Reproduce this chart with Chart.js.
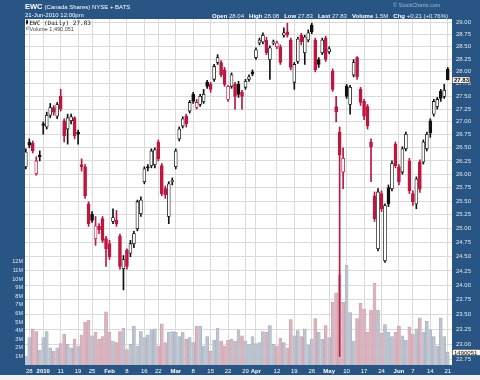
<!DOCTYPE html>
<html>
<head>
<meta charset="utf-8">
<script src="https://cdn.jsdelivr.net/npm/chart.js@4/dist/chart.umd.min.js"></script>
<style>
  html, body { margin: 0; padding: 0; background: #fff; }
  canvas { display: block; }
</style>
</head>
<body>
<canvas id="stockChart" width="480" height="380"></canvas>
<script>
// trading days shown on the chart
const dates = [
  '2009-12-24','2009-12-28','2009-12-29','2009-12-30','2009-12-31',
  '2010-01-04','2010-01-05','2010-01-06','2010-01-07','2010-01-08',
  '2010-01-11','2010-01-12','2010-01-13','2010-01-14','2010-01-15',
  '2010-01-19','2010-01-20','2010-01-21','2010-01-22',
  '2010-01-25','2010-01-26','2010-01-27','2010-01-28','2010-01-29',
  '2010-02-01','2010-02-02','2010-02-03','2010-02-04','2010-02-05',
  '2010-02-08','2010-02-09','2010-02-10','2010-02-11','2010-02-12',
  '2010-02-16','2010-02-17','2010-02-18','2010-02-19',
  '2010-02-22','2010-02-23','2010-02-24','2010-02-25','2010-02-26',
  '2010-03-01','2010-03-02','2010-03-03','2010-03-04','2010-03-05',
  '2010-03-08','2010-03-09','2010-03-10','2010-03-11','2010-03-12',
  '2010-03-15','2010-03-16','2010-03-17','2010-03-18','2010-03-19',
  '2010-03-22','2010-03-23','2010-03-24','2010-03-25','2010-03-26',
  '2010-03-29','2010-03-30','2010-03-31','2010-04-01',
  '2010-04-05','2010-04-06','2010-04-07','2010-04-08','2010-04-09',
  '2010-04-12','2010-04-13','2010-04-14','2010-04-15','2010-04-16',
  '2010-04-19','2010-04-20','2010-04-21','2010-04-22','2010-04-23',
  '2010-04-26','2010-04-27','2010-04-28','2010-04-29','2010-04-30',
  '2010-05-03','2010-05-04','2010-05-05','2010-05-06','2010-05-07',
  '2010-05-10','2010-05-11','2010-05-12','2010-05-13','2010-05-14',
  '2010-05-17','2010-05-18','2010-05-19','2010-05-20','2010-05-21',
  '2010-05-24','2010-05-25','2010-05-26','2010-05-27','2010-05-28',
  '2010-06-01','2010-06-02','2010-06-03','2010-06-04',
  '2010-06-07','2010-06-08','2010-06-09','2010-06-10','2010-06-11',
  '2010-06-14','2010-06-15','2010-06-16','2010-06-17','2010-06-18',
  '2010-06-21'
];

const openP = [
  26.14, 26.61, 26.59, 26.01, 26.36, 26.96, 26.90, 27.13, 27.28, 27.11,
  27.50, 27.02, 26.86, 27.02, 27.08, 26.80, 26.18, 26.14, 25.45, 25.26,
  24.82, 25.04, 25.18, 24.82, 24.73, 25.13, 25.15, 24.86, 24.29, 24.61,
  24.56, 24.73, 25.00, 25.27, 25.86, 26.14, 26.16, 26.18, 26.61, 26.16,
  25.73, 25.22, 25.86, 26.14, 26.67, 26.92, 27.11, 27.21, 27.54, 27.28,
  27.34, 27.40, 27.78, 27.74, 27.84, 28.18, 28.18, 28.03, 27.44, 27.70,
  27.74, 27.74, 27.58, 27.68, 27.84, 27.99, 28.28, 28.58, 28.60, 28.64,
  28.24, 28.58, 28.50, 28.50, 28.74, 28.81, 28.64, 27.78, 28.20, 28.74,
  28.38, 28.64, 28.95, 28.64, 28.24, 28.38, 28.68, 28.40, 28.00, 27.30,
  26.80, 26.04, 27.70, 27.34, 27.93, 28.28, 27.64, 27.40, 27.30, 26.61,
  25.60, 24.64, 25.64, 24.43, 25.75, 25.73, 26.57, 26.14, 26.04, 26.48,
  26.25, 25.64, 25.45, 26.23, 26.23, 26.48, 27.02, 27.15, 27.30, 27.60,
  27.50, 28.04
];
const highP = [
  26.48, 26.67, 26.63, 26.33, 26.44, 27.00, 27.19, 27.36, 27.32, 27.38,
  27.64, 27.06, 27.15, 27.15, 27.10, 26.84, 26.29, 26.18, 25.49, 25.31,
  25.22, 25.09, 25.22, 24.86, 24.79, 25.36, 25.33, 24.90, 24.52, 24.64,
  24.79, 24.95, 25.52, 25.58, 26.14, 26.18, 26.48, 26.50, 26.65, 26.20,
  25.78, 25.86, 25.93, 26.48, 26.90, 27.10, 27.15, 27.42, 27.58, 27.44,
  27.54, 27.64, 27.82, 27.78, 28.14, 28.34, 28.22, 28.08, 27.72, 27.97,
  27.78, 27.80, 27.62, 27.84, 27.93, 28.03, 28.48, 28.68, 28.79, 28.70,
  28.52, 28.64, 28.62, 28.54, 28.89, 28.99, 28.68, 28.18, 28.70, 28.78,
  28.74, 28.85, 28.99, 28.68, 28.28, 28.68, 28.72, 28.50, 28.05, 27.50,
  26.90, 26.50, 27.74, 27.72, 28.24, 28.30, 27.68, 27.44, 27.34, 26.67,
  25.67, 25.73, 25.69, 25.45, 25.80, 26.25, 26.61, 26.18, 26.52, 26.80,
  26.30, 25.69, 25.95, 26.27, 26.65, 26.80, 27.06, 27.44, 27.48, 27.64,
  27.74, 28.08
];
const lowP = [
  26.10, 26.50, 26.40, 25.98, 26.25, 26.76, 26.86, 27.08, 27.13, 27.06,
  27.21, 26.61, 26.57, 26.96, 26.67, 26.57, 26.06, 25.55, 25.04, 25.11,
  24.70, 24.91, 24.75, 24.33, 24.45, 25.09, 25.04, 24.28, 23.92, 24.28,
  24.50, 24.66, 24.96, 25.22, 25.82, 26.06, 26.12, 26.12, 26.25, 25.60,
  25.55, 25.09, 25.80, 26.10, 26.63, 26.88, 26.90, 27.17, 27.36, 27.25,
  27.30, 27.36, 27.66, 27.58, 27.80, 28.14, 27.89, 27.70, 27.40, 27.66,
  27.25, 27.48, 27.25, 27.64, 27.80, 27.91, 28.24, 28.54, 28.56, 28.34,
  27.84, 28.54, 28.46, 28.14, 28.70, 28.70, 28.03, 27.64, 28.16, 28.54,
  28.14, 28.60, 28.77, 27.99, 28.08, 28.34, 28.20, 28.36, 27.60, 27.00,
  22.80, 25.73, 27.46, 27.15, 27.89, 27.84, 27.32, 27.04, 26.86, 25.86,
  25.13, 24.60, 25.31, 24.40, 25.40, 25.69, 26.12, 25.80, 26.00, 26.44,
  25.64, 25.42, 25.36, 25.66, 26.19, 26.44, 26.70, 27.11, 27.25, 27.40,
  27.46, 27.83
];
const closeP = [
  26.42, 26.55, 26.44, 26.25, 26.33, 26.93, 27.13, 27.28, 27.19, 27.34,
  27.25, 26.73, 27.08, 27.10, 26.73, 26.76, 26.14, 25.60, 25.09, 25.15,
  25.05, 24.98, 24.79, 24.64, 24.50, 25.20, 25.09, 24.33, 24.45, 24.33,
  24.73, 24.91, 25.49, 25.52, 26.10, 26.12, 26.44, 26.46, 26.29, 25.64,
  25.62, 25.82, 25.88, 26.44, 26.86, 27.06, 26.96, 27.38, 27.40, 27.38,
  27.50, 27.54, 27.70, 27.64, 28.10, 28.28, 27.93, 27.74, 27.70, 27.93,
  27.50, 27.54, 27.50, 27.80, 27.89, 27.95, 28.44, 28.64, 28.74, 28.38,
  28.48, 28.60, 28.58, 28.18, 28.79, 28.74, 28.08, 28.14, 28.66, 28.60,
  28.70, 28.79, 28.81, 28.03, 28.14, 28.64, 28.24, 28.46, 27.64, 27.20,
  26.36, 26.30, 27.50, 27.68, 28.18, 27.89, 27.38, 27.11, 26.92, 26.51,
  25.18, 25.67, 25.36, 25.42, 25.45, 26.20, 26.16, 25.86, 26.48, 26.76,
  25.69, 25.49, 25.91, 25.72, 26.61, 26.76, 26.78, 27.40, 27.44, 27.46,
  27.62, 27.83
];
// volume in millions of shares
const volumeM = [
  1.0, 3.2, 4.2, 3.9, 1.7, 3.2, 3.9, 2.0, 1.6, 2.0,
  2.5, 3.6, 2.4, 2.0, 3.0, 2.2, 3.5, 5.0, 5.2, 3.4,
  3.8, 3.0, 3.3, 6.2, 3.8, 2.8, 2.6, 3.9, 4.3, 1.8,
  2.4, 4.5, 2.2, 3.9, 3.2, 3.5, 4.1, 4.2, 2.2, 4.8,
  2.6, 3.8, 3.9, 3.8, 3.3, 3.8, 3.0, 3.2, 2.6, 4.5,
  4.5, 2.2, 3.3, 1.6, 2.9, 4.3, 2.8, 2.2, 2.9, 3.0,
  2.8, 4.1, 3.4, 2.8, 2.4, 3.3, 2.5, 2.6, 3.9, 3.8,
  4.6, 2.4, 2.2, 3.1, 2.6, 2.0, 5.3, 3.4, 4.0, 3.3,
  4.2, 2.3, 3.0, 5.4, 3.8, 3.0, 4.6, 3.2, 7.3, 8.4,
  10.5, 7.3, 11.6, 6.1, 2.8, 5.4, 7.2, 6.5, 3.8, 6.4,
  9.5, 6.4, 3.7, 4.7, 3.8, 3.3, 3.8, 4.5, 3.4, 2.9,
  4.4, 3.6, 4.2, 5.5, 3.8, 5.1, 4.1, 3.3, 2.2, 5.5,
  3.3, 1.49
];

const priceTicks = [29.00, 28.75, 28.50, 28.25, 28.00, 27.75, 27.50, 27.25, 27.00, 26.75,
  26.50, 26.25, 26.00, 25.75, 25.50, 25.25, 25.00, 24.75, 24.50, 24.25,
  24.00, 23.75, 23.50, 23.25, 23.00, 22.75];
const volumeTicks = [1, 2, 3, 4, 5, 6, 7, 8, 9, 10, 11, 12];
const xTickDates = ['2009-12-28','2010-01-04','2010-01-11','2010-01-19','2010-01-25',
  '2010-02-01','2010-02-08','2010-02-16','2010-02-22','2010-03-01','2010-03-08',
  '2010-03-15','2010-03-22','2010-03-29','2010-04-01','2010-04-12','2010-04-19',
  '2010-04-26','2010-05-03','2010-05-10','2010-05-17','2010-05-24','2010-06-01',
  '2010-06-07','2010-06-14','2010-06-21'];
const xTickLabels = ['28','2010','11','19','25','Feb','8','16','22','Mar','8','15','22','29',
  'Apr','12','19','26','May','10','17','24','Jun','7','14','21'];
const boldLabels = ['2010','Feb','Mar','Apr','May','Jun'];

const FONT = '"Liberation Sans", Arial, sans-serif';
const FRAME = '#285583';
const RED = '#bf1640';
const BLACK = '#111111';
const GRID = '#dadada';

// black/red by close vs previous close, hollow when close > open
const isUp = closeP.map((c, k) => k === 0 ? c >= openP[k] : c >= closeP[k - 1]);
const candleColor = isUp.map(u => u ? BLACK : RED);
const bodyFill = closeP.map((c, k) => c > openP[k] ? '#ffffff' : candleColor[k]);
const volColor = isUp.map(u => u ? '#bcc3cf' : '#d9b3bd');
const volBorder = isUp.map(u => u ? '#a3adbd' : '#c99aa7');

const wickData = dates.map((d, k) => ({ x: k, y: [lowP[k], highP[k]] }));
const bodyData = dates.map((d, k) => ({ x: k, y: [Math.min(openP[k], closeP[k]), Math.max(openP[k], closeP[k])] }));
const volData = dates.map((d, k) => ({ x: k, y: volumeM[k] }));

const last = dates.length - 1;

const framePlugin = {
  id: 'frame',
  beforeDraw(chart) {
    const { ctx, chartArea: a } = chart;
    ctx.save();
    ctx.fillStyle = FRAME;
    ctx.fillRect(0, 0, 480, 375);
    ctx.fillStyle = '#f2f2f2';
    ctx.fillRect(0, 375, 480, 5);
    ctx.fillStyle = '#ffffff';
    ctx.fillRect(a.left, a.top, a.right - a.left, a.bottom - a.top);
    ctx.restore();
  },
  afterDraw(chart) {
    const { ctx, chartArea: a } = chart;
    const price = chart.scales.price;
    const vol = chart.scales.vol;
    ctx.save();
    ctx.textBaseline = 'alphabetic';

    // title block
    ctx.fillStyle = '#ffffff';
    ctx.font = 'bold 7.5px ' + FONT;
    ctx.fillText('EWC', 25, 9);
    const w = ctx.measureText('EWC ').width;
    ctx.font = '6px ' + FONT;
    ctx.fillText('(Canada Shares) NYSE + BATS', 25 + w, 9);
    ctx.fillText('21-Jun-2010 12:00pm', 25, 17);

    ctx.fillStyle = '#9db8d6';
    ctx.font = '5.5px ' + FONT;
    ctx.fillText('\u00a9 StockCharts.com', 393, 7);

    // quote line, spread from x 212 to x 448
    const parts = [['Open', 1], [' 28.04', 0], ['High', 1], [' 28.08', 0], ['Low', 1], [' 27.83', 0],
      ['Last', 1], [' 27.83', 0], ['Volume', 1], [' 1.5M', 0], ['Chg', 1], [' +0.21 (+0.76%)', 0]];
    const fontOf = b => (b ? 'bold ' : '') + '6px ' + FONT;
    let total = 0;
    parts.forEach(([t, b]) => { ctx.font = fontOf(b); total += ctx.measureText(t).width; });
    const gap = (236 - total) / 5;
    let x = 212;
    parts.forEach(([t, b], i) => {
      ctx.font = fontOf(b);
      ctx.fillStyle = b ? '#ffffff' : '#e6edf5';
      ctx.fillText(t, x, 17.5);
      x += ctx.measureText(t).width;
      if (i % 2 === 1) x += gap;
    });

    // legend inside plot
    ctx.fillStyle = BLACK;
    ctx.fillRect(26, 20.5, 2, 3);
    ctx.fillRect(26.5, 19.5, 1, 5);
    ctx.font = '6px "DejaVu Sans Mono", monospace';
    ctx.fillText('EWC (Daily) 27.83', 29.5, 24.5);
    ctx.fillStyle = '#8e97a6';
    ctx.fillRect(26, 27, 1, 3);
    ctx.fillRect(27.5, 26, 1, 4);
    ctx.fillStyle = '#444444';
    ctx.font = '5.5px ' + FONT;
    ctx.fillText('Volume 1,490,051', 29.5, 30.5);

    // last price box
    const yp = price.getPixelForValue(closeP[last]);
    ctx.fillStyle = '#f4f4f4';
    ctx.fillRect(a.right, yp - 3, 18, 6.5);
    ctx.strokeStyle = '#222';
    ctx.lineWidth = 0.6;
    ctx.strokeRect(a.right + 0.5, yp - 3, 17.5, 6.5);
    ctx.fillStyle = BLACK;
    ctx.font = 'bold 6px ' + FONT;
    ctx.fillText(closeP[last].toFixed(2), a.right + 2, yp + 2.3);

    // last volume box
    const yv = vol.getPixelForValue(volumeM[last]);
    ctx.fillStyle = '#f4f4f4';
    ctx.fillRect(a.right, yv - 3, 28, 6.5);
    ctx.strokeRect(a.right + 0.5, yv - 3, 28, 6.5);
    ctx.fillStyle = BLACK;
    ctx.font = '6px ' + FONT;
    ctx.fillText('1490051', a.right + 2, yv + 2.3);

    ctx.restore();
  }
};

const ctx = document.getElementById('stockChart').getContext('2d');

new Chart(ctx, {
  type: 'bar',
  data: {
    datasets: [
      {
        label: 'body',
        data: bodyData,
        yAxisID: 'price',
        grouped: false,
        order: 0,
        barThickness: 3,
        minBarLength: 1,
        backgroundColor: bodyFill,
        borderColor: candleColor,
        borderWidth: 0.8,
        borderSkipped: false
      },
      {
        label: 'wick',
        data: wickData,
        yAxisID: 'price',
        grouped: false,
        order: 1,
        barThickness: 1,
        backgroundColor: candleColor
      },
      {
        label: 'volume',
        data: volData,
        yAxisID: 'vol',
        grouped: false,
        order: 2,
        barThickness: 3,
        backgroundColor: volColor,
        borderColor: volBorder,
        borderWidth: 0.5,
        borderSkipped: 'start'
      }
    ]
  },
  options: {
    responsive: false,
    animation: false,
    layout: { padding: { top: 19, left: 0, right: 0, bottom: 0 } },
    plugins: {
      legend: { display: false },
      tooltip: { enabled: false }
    },
    scales: {
      x: {
        type: 'linear',
        min: -0.233,
        max: 122.22,
        bounds: 'data',
        offset: false,
        afterBuildTicks: s => { s.ticks = xTickDates.map(d => ({ value: dates.indexOf(d) })); },
        afterFit: s => { s.height = 15; },
        grid: { color: GRID, drawTicks: false, offset: false },
        border: { display: false },
        ticks: {
          autoSkip: false,
          maxRotation: 0,
          padding: 3,
          color: '#ffffff',
          callback: (v, i) => xTickLabels[i],
          font: c => ({ family: FONT, size: 6, weight: boldLabels.includes(xTickLabels[c.index]) ? 'bold' : 'normal' })
        }
      },
      price: {
        type: 'logarithmic',
        position: 'right',
        min: 22.66,
        max: 29.077,
        bounds: 'data',
        afterBuildTicks: s => { s.ticks = priceTicks.map(v => ({ value: v })); },
        afterFit: s => { s.width = 28; },
        grid: { color: GRID, drawTicks: false },
        border: { display: false },
        ticks: {
          autoSkip: false,
          padding: 4,
          color: '#dfe7f0',
          font: { family: FONT, size: 6 },
          callback: v => Number(v).toFixed(2)
        }
      },
      vol: {
        type: 'linear',
        position: 'left',
        min: 0,
        max: 40.3,
        bounds: 'data',
        afterBuildTicks: s => { s.ticks = volumeTicks.map(v => ({ value: v })); },
        afterFit: s => { s.width = 25; },
        grid: { display: false, drawTicks: false },
        border: { display: false },
        ticks: {
          autoSkip: false,
          padding: 2,
          color: '#dfe7f0',
          font: { family: FONT, size: 5.5 },
          callback: v => v + 'M'
        }
      }
    }
  },
  plugins: [framePlugin]
});
</script>
</body>
</html>
